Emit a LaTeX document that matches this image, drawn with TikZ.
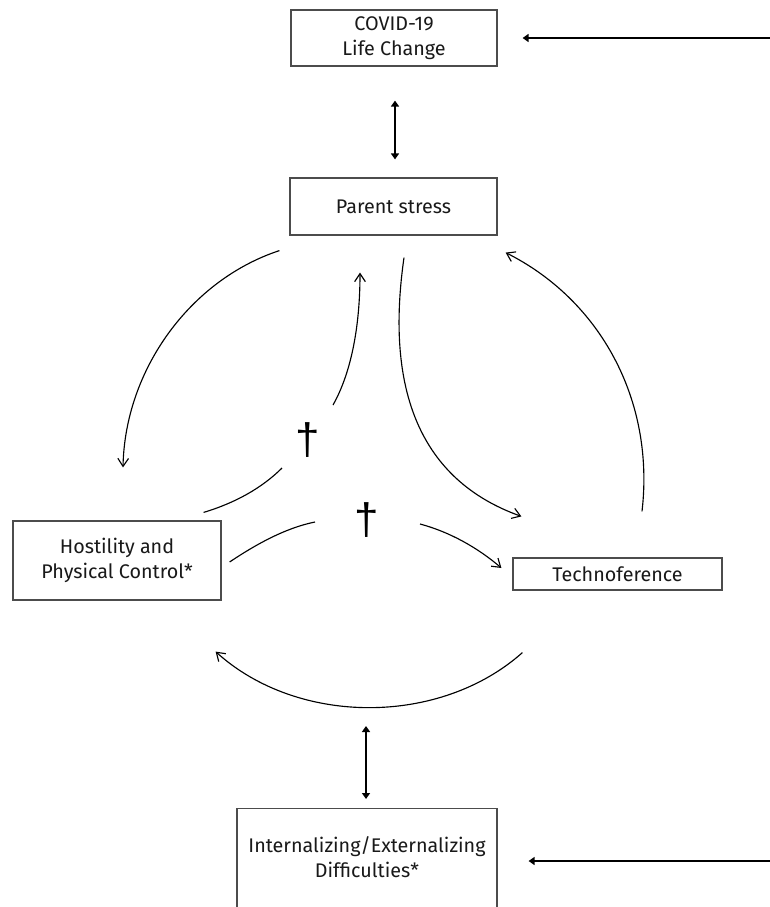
\documentclass[tikz,border=0pt]{standalone}
\usepackage{fontspec}
\setmainfont{Fira Sans}
\newfontfamily\markfont{Liberation Sans}
\usetikzlibrary{arrows.meta,calc}
\begin{document}
\begin{tikzpicture}[x=0.75pt,y=-0.75pt,
  box/.style={draw=black!70, line width=0.9pt, fill=white, text=black!90,
    align=center, inner sep=0pt, font=\fontsize{14.8}{19}\selectfont},
  boxtext/.style={text=black!90, align=center, inner sep=0pt,
    font=\fontsize{14.8}{19}\selectfont},
  flow/.style={line width=0.85pt, -{Straight Barb[length=6pt,width=8pt]}},
  plainline/.style={line width=0.85pt},
  dbl/.style={line width=1.8pt,
    {Triangle[length=4.5pt,width=6pt]}-{Triangle[length=4.5pt,width=6pt]}},
  feed/.style={line width=1.8pt, -{Triangle[length=4.5pt,width=6pt]}},
  sigmark/.style={inner sep=0pt, text=black, font=\markfont\fontsize{33}{33}\selectfont}
]
\useasboundingbox (0,0) rectangle (770,907);
\clip (0,0) rectangle (770,907);

% boxes
\node[box, minimum width=154.5pt, minimum height=42pt] (covid) at (394,38) {COVID-19\\Life Change};
\node[box, minimum width=155.25pt, minimum height=42.75pt] (parent) at (393.5,206.5) {Parent stress};
\node[box, minimum width=156pt, minimum height=59.25pt] (host) at (117,560.5) {Hostility and\\Physical Control*};
\node[box, minimum width=156.75pt, minimum height=24pt] (techno) at (617.5,574) {Technoference};
\node[box, minimum width=195pt, minimum height=90pt, anchor=north] (intern) at (367,808) {};
\node[boxtext] (internlabel) at (367,857) {Internalizing/Externalizing\\Difficulties*};

% incoming arrows from the right margin
\coordinate (covidsrc) at (770,38);
\coordinate (internsrc) at (770,861);
\draw[feed] (covidsrc) -- ($(covid.east)+(25,0)$);
\draw[feed] (internsrc) -- ($(intern.east |- internsrc)+(31,0)$);

% two-way links
\draw[dbl] ($(covid.south)+(1,34)$) -- ($(parent.north)+(1.5,-18)$);
\draw[dbl] ($(intern.north)+(-1,-82)$) -- ($(intern.north)+(-1,-9)$);

% parent stress -> hostility
\draw[flow] ($(parent.south west)+(-10,15)$) .. controls (190,280) and (125,370) .. ($(host.north)+(6,-53)$);

% hostility -> parent stress (interrupted by the dagger)
\coordinate (gapA) at (282,468);
\coordinate (gapB) at (333,405);
\draw[plainline] ($(host.north east)+(-18,-8)$) .. controls (235,503) and (262,488) .. (gapA);
\draw[flow] (gapB) .. controls (350,375) and (360,330) .. ($(parent.south)+(-33.5,37)$);

% hostility -> technoference (interrupted by the dagger)
\coordinate (gapC) at (315,522);
\coordinate (gapD) at (420,524);
\draw[plainline] ($(host.east)+(8,1.5)$) .. controls (255,545) and (285,528) .. (gapC);
\draw[flow] (gapD) .. controls (450,532) and (478,548) .. ($(techno.west)+(-11,-6)$);

% parent stress -> technoference
\draw[flow] ($(parent.south)+(10.5,22)$) .. controls (385,390) and (420,480) .. ($(techno.north west)+(9,-41)$);

% technoference -> parent stress
\draw[flow] ($(techno.north)+(24.5,-46)$) .. controls (655,400) and (600,300) .. ($(parent.south east)+(8,17)$);

% technoference -> hostility
\draw[flow] ($(techno.south west)+(10,62)$) .. controls (440,726) and (298,726) .. ($(host.south east)+(-6,51)$);

% significance marks
\node[sigmark] (dagA) at (308,440) {†};
\node[sigmark] (dagB) at (367,520) {†};
\end{tikzpicture}
\end{document}
